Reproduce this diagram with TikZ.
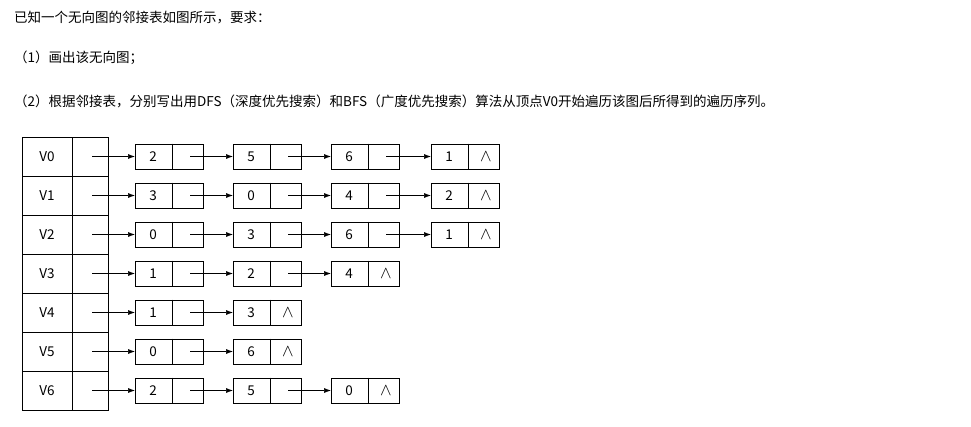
\documentclass[tikz,border=0pt]{standalone}
\usepackage{fontspec}
\setmainfont{Noto Sans CJK SC}
\usetikzlibrary{arrows.meta,calc}
\begin{document}
\begin{tikzpicture}[x=1pt,y=-1pt,
  cell/.style={draw,thick,minimum width=68pt,minimum height=25pt,inner sep=0pt,anchor=west},
  hd/.style={anchor=west,inner sep=0pt,font=\fontsize{13.5}{15}\selectfont},
  lnk/.style={-{Latex[length=7pt,width=5pt]},semithick}]
\useasboundingbox (0,0) rectangle (971,426);
\node[hd] (t1) at (14,18) {已知一个无向图的邻接表如图所示，要求：};
\node[hd] (t2) at (14,58) {（1）画出该无向图；};
\node[hd] (t3) at (14,101) {（2）根据邻接表，分别写出用DFS（深度优先搜索）和BFS（广度优先搜索）算法从顶点V0开始遍历该图后所得到的遍历序列。};
\def\xs{{135,233,331,431}}
\foreach \r/\n/\lst in {0/4/{2,5,6,1},1/4/{3,0,4,2},2/4/{0,3,6,1},3/3/{1,2,4},4/2/{1,3},5/2/{0,6},6/3/{2,5,0}}{
  \pgfmathsetmacro{\yy}{137+39*\r+19.5}
  \draw[thick] (22,{137+39*\r}) rectangle (108,{176+39*\r});
  \draw[thick] (72,{137+39*\r}) -- (72,{176+39*\r});
  \node (v\r) at (47,\yy) {\fontsize{13.5}{15}\selectfont V\r};
  \coordinate (q\r-0) at (92,\yy);
  \foreach \v [count=\c] in \lst {
    \pgfmathsetmacro{\xx}{\xs[\c-1]}
    \pgfmathtruncatemacro{\pc}{\c-1}
    \node[cell] (n\r-\c) at (\xx,\yy) {};
    \draw[thick] ($(n\r-\c.north west)+(37,0)$) -- ($(n\r-\c.south west)+(37,0)$);
    \node at ($(n\r-\c.west)+(18,0)$) {\fontsize{13.5}{15}\selectfont\v};
    \coordinate (q\r-\c) at ($(n\r-\c.west)+(55,0)$);
    \draw[lnk] (q\r-\pc) -- (n\r-\c.west);
    \ifnum\c=\n
      \node at (q\r-\c) {\fontsize{16}{16}\selectfont$\wedge$};
    \fi
  }
}
\end{tikzpicture}
\end{document}
